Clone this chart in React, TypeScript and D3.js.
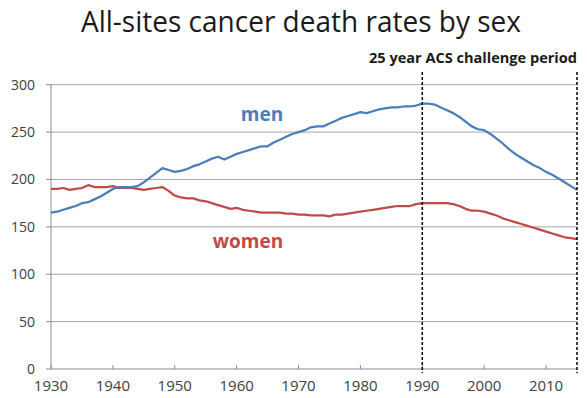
import * as d3 from "d3";

const years = d3.range(1930, 2016);

const men = [
  165, 166, 168, 170, 172, 175, 176, 179, 182, 186,
  190, 192, 192, 192, 193, 197, 202, 207, 212, 210,
  208, 209, 211, 214, 216, 219, 222, 224, 221, 224,
  227, 229, 231, 233, 235, 235, 239, 242, 245, 248,
  250, 252, 255, 256, 256, 259, 262, 265, 267, 269,
  271, 270, 272, 274, 275, 276, 276, 277, 277, 278,
  280, 280, 279, 276, 273, 270, 266, 261, 256, 253,
  252, 248, 243, 238, 232, 227, 223, 219, 215, 212,
  208, 205, 201, 197, 193, 189,
];

const women = [
  190, 190, 191, 189, 190, 191, 194, 192, 192, 192,
  193, 191, 191, 191, 190, 189, 190, 191, 192, 188,
  183, 181, 180, 180, 178, 177, 175, 173, 171, 169,
  170, 168, 167, 166, 165, 165, 165, 165, 164, 164,
  163, 163, 162, 162, 162, 161, 163, 163, 164, 165,
  166, 167, 168, 169, 170, 171, 172, 172, 172, 174,
  175, 175, 175, 175, 175, 174, 172, 169, 167, 167,
  166, 164, 162, 159, 157, 155, 153, 151, 149, 147,
  145, 143, 141, 139, 138, 137,
];

const yTicks = [0, 50, 100, 150, 200, 250, 300];
const xTicks = [1930, 1940, 1950, 1960, 1970, 1980, 1990, 2000, 2010];
const periodYears = [1990, 2015];

const W = 587;
const H = 398;
const M = { left: 51, right: 10, top: 84.7, bottom: 29 };

export default function App() {
  const x = d3.scaleLinear().domain([1930, 2015]).range([M.left, W - M.right]);
  const y = d3.scaleLinear().domain([0, 300]).range([H - M.bottom, M.top]);

  const line = d3
    .line<number>()
    .x((_, i) => x(years[i]))
    .y((d) => y(d));

  const font = "'Open Sans', 'Liberation Sans', sans-serif";
  const blue = "#4a7ebb";
  const red = "#be4b48";

  return (
    <svg
      width={W}
      height={H}
      style={{ position: "absolute", left: 0, top: 0, background: "#fff" }}
      fontFamily={font}
    >
      <text
        x={81}
        y={32}
        fontSize={29}
        fill="#1a1a1a"
        textLength={440}
        lengthAdjust="spacingAndGlyphs"
      >
        All-sites cancer death rates by sex
      </text>

      {/* gridlines */}
      {yTicks.slice(1).map((t) => (
        <line
          key={t}
          x1={x(1930)}
          x2={x(2015)}
          y1={y(t)}
          y2={y(t)}
          stroke="#a6a6a6"
          strokeWidth={1}
        />
      ))}

      {/* y axis */}
      <line x1={x(1930)} x2={x(1930)} y1={y(0)} y2={y(300)} stroke="#8c8c8c" />
      {yTicks.map((t) => (
        <g key={t}>
          <line x1={x(1930) - 5} x2={x(1930)} y1={y(t)} y2={y(t)} stroke="#8c8c8c" />
          <text
            x={35}
            y={y(t)}
            dy="0.35em"
            textAnchor="end"
            fontSize={14}
            fill="#404040"
          >
            {t}
          </text>
        </g>
      ))}

      {/* x axis */}
      <line x1={x(1930)} x2={x(2015)} y1={y(0)} y2={y(0)} stroke="#8c8c8c" />
      {xTicks.map((t) => (
        <g key={t}>
          <line x1={x(t)} x2={x(t)} y1={y(0)} y2={y(0) - 4} stroke="#8c8c8c" />
          <text
            x={x(t)}
            y={391}
            textAnchor="middle"
            fontSize={15}
            fill="#404040"
          >
            {t}
          </text>
        </g>
      ))}

      {/* series */}
      <path d={line(women) ?? ""} fill="none" stroke={red} strokeWidth={2.25} strokeLinejoin="round" />
      <path d={line(men) ?? ""} fill="none" stroke={blue} strokeWidth={2.25} strokeLinejoin="round" />

      {/* challenge period */}
      {periodYears.map((p) => (
        <line
          key={p}
          x1={x(p)}
          x2={x(p)}
          y1={72}
          y2={y(0) + 4}
          stroke="#000"
          strokeWidth={1.5}
          strokeDasharray="3,2"
        />
      ))}
      <text
        x={577}
        y={63}
        textAnchor="end"
        fontSize={14}
        fontWeight="bold"
        fill="#1a1a1a"
        textLength={208}
        lengthAdjust="spacingAndGlyphs"
      >
        25 year ACS challenge period
      </text>

      {/* series labels */}
      <text x={262} y={121} textAnchor="middle" fontSize={19} fontWeight="bold" fill={blue}>
        men
      </text>
      <text x={248} y={248} textAnchor="middle" fontSize={19} fontWeight="bold" fill={red}>
        women
      </text>
    </svg>
  );
}
